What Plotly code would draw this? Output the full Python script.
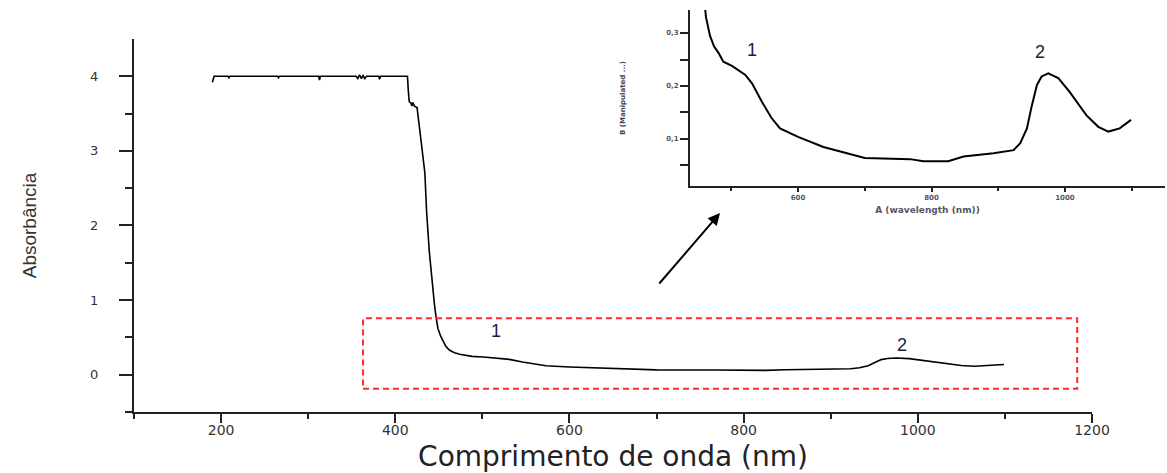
import plotly.graph_objects as go

# Spectrum (nm, absorbance)
wavelength = [190, 192, 208, 209, 210, 265, 266, 267, 312, 313, 314, 355, 357, 359, 361, 363, 365, 367,
              381, 382, 383, 414, 415, 416, 418, 419, 420, 422, 425, 428, 431, 434, 436, 439, 442, 445,
              447, 449, 452, 455, 458, 462, 468, 474, 481, 488, 501, 521, 531, 546, 560, 573, 600, 638,
              678, 700, 768, 788, 825, 848, 893, 923, 933, 943, 950, 958, 965, 975, 990, 1007, 1032,
              1050, 1065, 1082, 1099]
absorbance = [3.92, 4.00, 4.00, 3.98, 4.00, 4.00, 3.98, 4.00, 4.00, 3.95, 4.00, 4.00, 3.97, 4.02, 3.97,
              4.01, 3.97, 4.00, 4.00, 3.96, 4.00, 4.00, 3.80, 3.66, 3.64, 3.60, 3.65, 3.60, 3.58, 3.32,
              3.00, 2.70, 2.18, 1.66, 1.26, 0.94, 0.76, 0.62, 0.52, 0.44, 0.38, 0.33, 0.295, 0.275, 0.262,
              0.246, 0.238, 0.221, 0.205, 0.170, 0.140, 0.120, 0.104, 0.085, 0.072, 0.064, 0.062, 0.058,
              0.058, 0.067, 0.073, 0.079, 0.092, 0.120, 0.161, 0.202, 0.218, 0.224, 0.215, 0.189, 0.145,
              0.123, 0.114, 0.120, 0.136]

main_x_ticks = [200, 400, 600, 800, 1000, 1200]
main_y_ticks = [0, 1, 2, 3, 4]
inset_x_ticks = [600, 800, 1000]
inset_y_ticks = [0.1, 0.2, 0.3]
inset_y_ticktext = ["0,1", "0,2", "0,3"]

FONT = "Liberation Sans"
WIDE = "DejaVu Sans"

fig = go.Figure()
fig.add_trace(go.Scatter(x=wavelength, y=absorbance, mode="lines",
                         line=dict(color="black", width=1.6), xaxis="x", yaxis="y",
                         showlegend=False, hoverinfo="skip"))
fig.add_trace(go.Scatter(x=wavelength, y=absorbance, mode="lines",
                         line=dict(color="black", width=2), xaxis="x2", yaxis="y2",
                         showlegend=False, hoverinfo="skip"))

axis_common = dict(showgrid=False, zeroline=False, showline=True, linecolor="#222",
                   linewidth=2, ticks="outside", tickcolor="#222", mirror=False,
                   automargin=False)

fig.update_layout(
    width=1167, height=473, autosize=False,
    margin=dict(l=134, r=0, t=10, b=61, autoexpand=False),
    paper_bgcolor="white", plot_bgcolor="rgba(0,0,0,0)",
    xaxis=dict(**axis_common, domain=[0, 0.9274], range=[100, 1200], tickvals=main_x_ticks,
               ticklen=9, tickwidth=2,
               minor=dict(tickvals=[100, 300, 500, 700, 900, 1100], ticklen=5, tickwidth=2,
                          ticks="outside", tickcolor="#222"),
               tickfont=dict(family=WIDE, size=14, color="#333"),
               ticklabelstandoff=-5,
               title=dict(text="Comprimento de onda (nm)", standoff=14,
                          font=dict(family=WIDE, size=28, color="#222")),
               anchor="y"),
    yaxis=dict(**axis_common, domain=[0, 0.9279], range=[-0.5, 4.5], tickvals=main_y_ticks,
               ticklen=13, tickwidth=2,
               minor=dict(tickvals=[-0.5, 0.5, 1.5, 2.5, 3.5], ticklen=7, tickwidth=2,
                          ticks="outside", tickcolor="#222"),
               tickfont=dict(family=WIDE, size=13, color="#333"),
               ticklabelstandoff=18,
               title=dict(text="Absorbância", standoff=48,
                          font=dict(family=FONT, size=19, color="#333")),
               anchor="x"),
    xaxis2=dict(**axis_common, domain=[0.5382, 0.9981], range=[438, 1150], tickvals=inset_x_ticks,
                ticklen=4, tickwidth=2,
                minor=dict(tickvals=[500, 700, 900, 1100], ticklen=3, tickwidth=2,
                           ticks="outside", tickcolor="#222"),
                tickfont=dict(family=WIDE, size=7, color="#556", weight="bold"),
                title=dict(text="A (wavelength (nm))", standoff=5,
                           font=dict(family=WIDE, size=9, color="#556", weight="bold")),
                anchor="y2"),
    yaxis2=dict(**axis_common, domain=[0.5622, 1.0], range=[0.0113, 0.3434],
                tickvals=inset_y_ticks, ticktext=inset_y_ticktext,
                ticklen=8, tickwidth=2,
                minor=dict(tickvals=[0.05, 0.15, 0.25], ticklen=8, tickwidth=2,
                           ticks="outside", tickcolor="#222"),
                tickfont=dict(family=WIDE, size=7, color="#556", weight="bold"),
                title=dict(text="B (Manipulated ...)", standoff=40,
                           font=dict(family=WIDE, size=7, color="#445", weight="bold")),
                anchor="x2"),
)

# Dashed region highlighting the zoomed part
fig.add_shape(type="rect", xref="x", yref="y", x0=363, x1=1183, y0=-0.19, y1=0.756,
              line=dict(color="#ff2a2a", width=2, dash="6px,4px"))

# Band labels
label_font = dict(family=FONT, size=18, color="#1d1a3a")
fig.add_annotation(x=516, y=0.58, xref="x", yref="y", text="1", showarrow=False, font=label_font)
fig.add_annotation(x=982, y=0.40, xref="x", yref="y", text="2", showarrow=False, font=label_font)
fig.add_annotation(x=531, y=0.268, xref="x2", yref="y2", text="1", showarrow=False, font=label_font)
fig.add_annotation(x=962, y=0.264, xref="x2", yref="y2", text="2", showarrow=False, font=label_font)

# Arrow pointing to the inset
fig.add_annotation(x=0.5673, y=0.495, xref="paper", yref="paper", ax=-62, ay=72,
                   showarrow=True, arrowhead=2, arrowsize=1.2, arrowwidth=2, arrowcolor="black",
                   text="")

fig.write_html("out.html")
